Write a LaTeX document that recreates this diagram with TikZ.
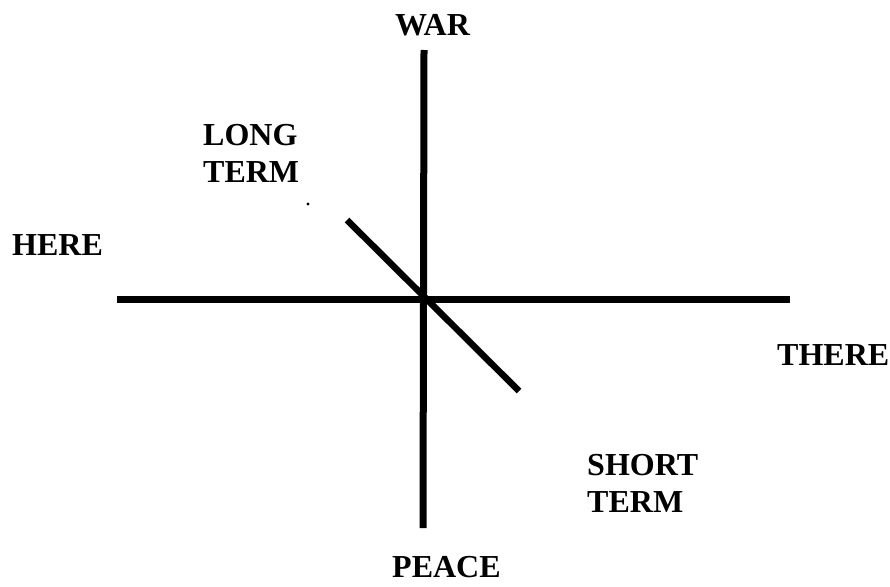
\documentclass[tikz,border=0pt]{standalone}
\usepackage{fontspec}
\setmainfont{Liberation Serif}
\begin{document}
\begin{tikzpicture}[x=1pt,y=-1pt,
  lbl/.style={font=\fontsize{32}{37}\selectfont\bfseries, inner sep=0pt, anchor=base west, align=left},
  axis/.style={line width=7pt, black},
  diag/.style={line width=6.5pt, black}]
\useasboundingbox (0,0) rectangle (890,586);
\coordinate (vtop) at (424,50);
\coordinate (vbot) at (423,528);
\coordinate (hl) at (117,299);
\coordinate (hr) at (790,299);
\coordinate (dtop) at (347,220);
\coordinate (dbot) at (519,391);
\draw[axis] (vtop) -- (vbot);
\draw[axis] (hl) -- (hr);
\draw[diag] (dtop) -- (dbot);
\fill (308,204) circle (1.6);
\node[lbl] (war) at (395,36) {WAR};
\node[lbl] (long) at (203,182) {LONG\\TERM};
\node[lbl] (here) at (12,255) {HERE};
\node[lbl] (there) at (777,365) {THERE};
\node[lbl] (short) at (587,512) {SHORT\\TERM};
\node[lbl, font=\fontsize{32}{37}\selectfont\bfseries] (peace) at (392,577) {PEACE};
\end{tikzpicture}
\end{document}
